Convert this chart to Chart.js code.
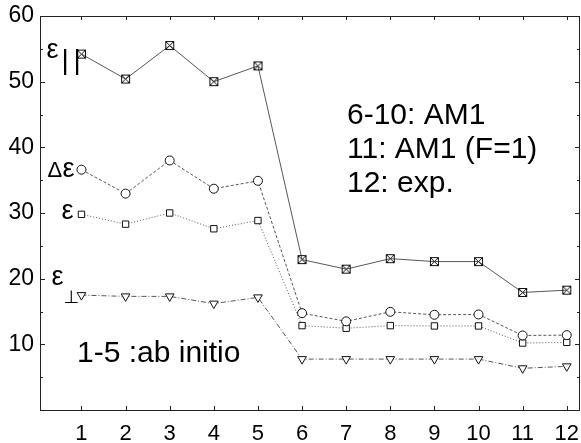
<!DOCTYPE html>
<html>
<head>
<meta charset="utf-8">
<script src="https://cdn.jsdelivr.net/npm/chart.js@4/dist/chart.umd.min.js"></script>
<style>
html,body{margin:0;padding:0;background:#fff;}
canvas{display:block;}
</style>
</head>
<body>
<canvas id="c" width="581" height="443"></canvas>
<script>
const categories = [1,2,3,4,5,6,7,8,9,10,11,12];
const epsPar  = [54.2,50.4,55.5,50.0,52.4,22.9,21.45,23.05,22.6,22.6,17.9,18.25];
const dEps    = [36.6,32.95,38.0,33.7,34.9,14.75,13.5,14.95,14.5,14.55,11.35,11.4];
const epsAvg  = [29.8,28.3,30.0,27.6,28.85,12.85,12.45,12.85,12.8,12.8,10.2,10.3];
const epsPerp = [17.5,17.3,17.3,16.2,17.15,7.75,7.75,7.75,7.75,7.75,6.35,6.65];
const yTicks  = [10,20,30,40,50,60];

const FONT = "'Liberation Sans', Arial, sans-serif";

function boxX(){
  const c=document.createElement('canvas'); c.width=11;c.height=11;
  const g=c.getContext('2d'); g.strokeStyle='#111'; g.lineWidth=1;
  g.strokeRect(1.5,1.5,8,8);
  g.beginPath(); g.moveTo(2,2); g.lineTo(9,9); g.moveTo(9,2); g.lineTo(2,9); g.stroke();
  return c;
}

const pts = a => a.map((v,i)=>({x:categories[i], y:v}));
const lineCol = '#444';

const decor = {
  id:'decor',
  afterDraw(chart){
    const g=chart.ctx, a=chart.chartArea, xs=chart.scales.x, ys=chart.scales.y;
    g.save();
    g.strokeStyle='#222'; g.lineWidth=1;
    g.strokeRect(Math.round(a.left)+0.5, Math.round(a.top)+0.5, Math.round(a.right-a.left)-1, Math.round(a.bottom-a.top));
    g.beginPath();
    categories.forEach(v=>{
      const x=Math.round(xs.getPixelForValue(v))+0.5;
      g.moveTo(x,a.bottom); g.lineTo(x,a.bottom-4);
      g.moveTo(x,a.top); g.lineTo(x,a.top+4);
    });
    for(let v=5; v<60; v+=5){
      const y=Math.round(ys.getPixelForValue(v))+0.5;
      const L = (v%10===0)?5:3;
      g.moveTo(a.left,y); g.lineTo(a.left+L,y);
      g.moveTo(a.right,y); g.lineTo(a.right-L,y);
    }
    g.stroke();

    g.fillStyle='#000';
    const x1 = xs.getPixelForValue(categories[0]);
    const py = v => ys.getPixelForValue(v);
    g.textBaseline='alphabetic'; g.textAlign='left';
    g.font='27px '+FONT;
    g.fillText('ε', x1-35, py(epsPar[0])+4);
    g.font='28px '+FONT;
    g.fillText('|', x1-20, py(epsPar[0])+15);
    g.fillText('|', x1-8, py(epsPar[0])+15);
    g.font='22px '+FONT;
    g.fillText('Δ', x1-34, py(dEps[0])+7);
    g.font='27px '+FONT;
    g.fillText('ε', x1-19, py(dEps[0])+7);
    g.fillText('ε', x1-20, py(epsAvg[0])+5);
    g.fillText('ε', x1-30, py(epsPerp[0])-10);
    g.font='18px DejaVu Sans';
    g.fillText('⊥', x1-18, py(epsPerp[0])+8);

    g.font='30px '+FONT;
    g.fillText('6-10: AM1', 347, 124);
    g.fillText('11: AM1 (F=1)', 347, 158);
    g.fillText('12: exp.', 347, 192);
    g.fillText('1-5 :ab initio', 77, 362);
    g.restore();
  }
};

new Chart(document.getElementById('c'), {
  type:'line',
  data:{
    datasets:[
      {data:pts(epsPar), borderColor:lineCol, borderWidth:0.9, pointStyle:boxX(), pointRadius:5, fill:false},
      {data:pts(dEps), borderColor:lineCol, borderWidth:0.9, borderDash:[3,2], pointStyle:'circle', pointRadius:4.5, pointBackgroundColor:'#fff', pointBorderColor:'#111', pointBorderWidth:1, fill:false},
      {data:pts(epsAvg), borderColor:lineCol, borderWidth:0.9, borderDash:[1,2], pointStyle:'rect', pointRadius:4.5, pointBackgroundColor:'#fff', pointBorderColor:'#111', pointBorderWidth:1, fill:false},
      {data:pts(epsPerp), borderColor:lineCol, borderWidth:0.9, borderDash:[5,2,1,2], pointStyle:'triangle', rotation:180, pointRadius:5, pointBackgroundColor:'#fff', pointBorderColor:'#111', pointBorderWidth:1, fill:false}
    ]
  },
  options:{
    responsive:false, animation:false, tension:0,
    layout:{autoPadding:false, padding:{top:16,right:1,left:0,bottom:0}},
    plugins:{legend:{display:false}, tooltip:{enabled:false}},
    scales:{
      x:{type:'linear', min:0.06, max:12.3,
        grid:{display:false, drawTicks:false}, border:{display:false},
        afterBuildTicks:s=>{ s.ticks = categories.map(v=>({value:v})); },
        afterFit:s=>{ s.height=33; s.paddingLeft=0; s.paddingRight=0; },
        ticks:{color:'#000', font:{family:FONT, size:22}, padding:11, maxRotation:0, autoSkip:false}
      },
      y:{min:0, max:60,
        grid:{display:false, drawTicks:false}, border:{display:false},
        afterBuildTicks:s=>{ s.ticks = yTicks.map(v=>({value:v})); },
        afterFit:s=>{ s.width=40; s.paddingTop=0; s.paddingBottom=0; },
        ticks:{color:'#000', font:{family:FONT, size:23}, padding:6}
      }
    }
  },
  plugins:[decor]
});
</script>
</body>
</html>
